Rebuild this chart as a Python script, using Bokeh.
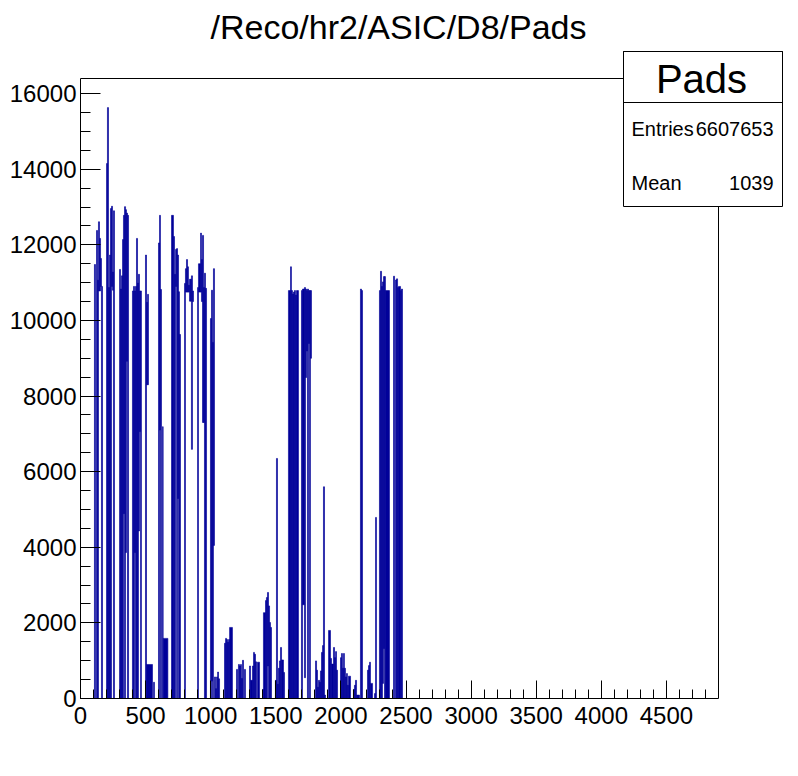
from bokeh.plotting import figure
from bokeh.models import Label, BoxAnnotation, FixedTicker
from bokeh.embed import file_html
from bokeh.resources import INLINE

# ---- histogram content (pad ranges with min/max bin content inside each range) ----
pad_lo = [107,123,131,138,146,154,161,200,207,215,223,230,238,246,253,
          300,307,315,323,330,338,346,353,361,
          399,407,415,422,430,438,445,453,461,
          499,507,515,507,561,599,607,614,630,635,
          699,714,722,730,738,745,753,760,
          799,806,814,822,829,837,845,852,860,
          899,906,922,929,937,945,952,960,
          998,1006,1014,1021,1029,1037,1045,1053,1060,
          1106,1114,1122,1129,1137,1145,
          1198,1213,1221,1229,1236,1244,1259,
          1298,1306,1321,1329,1336,1344,1359,
          1398,1405,1421,1428,1436,1444,1452,1459,
          1497,1505,1513,1520,1528,1536,1544,1559,
          1597,1613,1620,1628,1636,1643,1651,1659,
          1697,1705,1720,1728,1736,1743,1751,1759,1766,
          1805,1813,1820,1828,1836,1843,1851,1859,1866,1874,
          1905,1920,1928,1943,1951,1959,1966,
          1997,2004,2012,2020,2027,2035,2043,2050,2058,
          2096,2104,2112,2120,
          2150,2158,
          2204,2212,2220,2227,
          2258,2266,
          2296,2304,2312,2319,2327,2335,2342,
          2404,2419,2427,2435,2442,2458,2465]
pad_hi = [115,131,138,146,154,161,169,207,215,223,230,238,246,253,261,
          307,315,323,330,338,346,353,361,369,
          407,415,422,430,438,445,453,461,468,
          507,515,522,553,568,607,614,622,635,671,
          714,722,730,738,745,753,760,768,
          806,814,822,829,837,845,852,860,868,
          906,922,929,937,945,952,960,968,
          1006,1014,1021,1029,1037,1045,1053,1060,1068,
          1114,1122,1129,1137,1145,1167,
          1206,1221,1229,1236,1244,1252,1267,
          1306,1321,1329,1336,1344,1352,1375,
          1405,1421,1428,1436,1444,1452,1459,1467,
          1505,1513,1520,1528,1536,1544,1559,1567,
          1613,1620,1628,1636,1643,1651,1659,1674,
          1705,1720,1728,1736,1743,1751,1759,1766,1774,
          1813,1820,1828,1836,1843,1851,1859,1866,1874,1882,
          1920,1928,1943,1951,1959,1966,1974,
          2004,2012,2020,2027,2035,2043,2050,2058,2074,
          2104,2112,2120,2143,
          2158,2166,
          2212,2220,2227,2243,
          2266,2273,
          2304,2312,2319,2327,2335,2342,2373,
          2412,2427,2435,2442,2458,2465,2473]
count_min = [0,0,0,10780,10780,10900,0,0,0,0,0,0,10900,10800,0,
             0,0,0,0,4890,0,3860,8920,0,
             0,0,3860,0,0,0,4430,7060,0,
             0,8300,8300,0,0,0,7100,0,0,0,
             0,0,0,10900,0,5290,0,0,
             0,10750,10750,10750,10750,10510,10510,6590,10500,
             0,10750,10750,10500,7300,7300,0,0,
             0,460,0,4050,0,0,0,0,0,
             0,0,0,0,0,0,
             0,0,0,0,0,0,0,
             0,0,0,0,0,0,0,
             0,0,0,0,860,0,0,0,
             0,0,0,0,0,0,0,0,
             0,0,0,0,0,0,0,0,
             0,2480,550,8490,9190,0,9390,0,9000,
             0,0,0,0,0,0,0,0,0,0,
             0,0,0,0,0,0,0,
             0,0,0,0,0,0,0,0,0,
             0,0,0,0,
             0,0,
             0,0,0,0,
             0,0,
             0,0,0,400,1320,0,0,
             0,0,0,0,0,0,0]
count_max = [11480,12380,11065,12610,12170,11640,10900,14150,15630,10870,11730,12960,13020,11280,12900,
             11350,10830,11180,12140,12780,13010,12930,12840,12780,
             10780,10900,10780,10900,12170,10990,11220,10780,10780,
             11730,10480,10690,900,430,12050,12780,10820,7190,1590,
             12780,12220,11220,11880,11900,11730,10760,9630,
             10980,11370,11610,11420,10930,11090,11090,11180,10780,
             10870,11500,12310,11610,12250,10870,11250,10850,
             10050,10800,9420,11370,570,260,570,700,520,
             1460,1590,1560,1490,1560,1880,
             770,900,860,900,530,1010,770,
             860,480,860,1220,1170,970,960,
             240,2270,2590,2670,2805,2450,2010,1880,
             480,6350,380,800,995,1350,1020,690,
             10790,11420,10790,10700,10750,10790,10670,10790,
             10790,10830,10870,10830,10790,10830,10790,10790,10790,
             995,750,300,480,430,730,1220,1400,5600,90,
             1800,1060,910,1350,1080,1240,750,
             1080,1190,800,1190,800,570,660,350,590,
             240,350,480,90,
             10830,10790,
             750,870,960,400,
             130,4790,
             10790,11300,10900,11020,11160,11160,10790,
             11170,11070,11100,10870,10900,10790,10830]

x_major = [0, 500, 1000, 1500, 2000, 2500, 3000, 3500, 4000, 4500]
x_minor = list(range(0, 4900, 100))
y_major = [0, 2000, 4000, 6000, 8000, 10000, 12000, 14000, 16000]
y_minor = list(range(0, 16500, 500))

title_text = "/Reco/hr2/ASIC/D8/Pads"
stats_name = "Pads"
entries = "6607653"
mean = "1039"

X_MAX = 4900
Y_MAX = 16400
NAVY = "#000099"
FONT = "Liberation Sans"

# visual axes box on the page (px): left 80, right 718, top 78, bottom 698
W, H = 790, 768
FL, FR, FT, FB = 80, 718, 78, 698
def px_x(px):
    return (px - FL) / (FR - FL) * X_MAX
def py_y(py):
    return (FB - py) / (FB - FT) * Y_MAX

# the Bokeh frame spans to the top/right canvas edges so that the title and
# the statistics box (which lie outside the axes box) are not clipped
p = figure(width=W, height=H, x_range=(0, px_x(W)), y_range=(0, py_y(0)),
           output_backend="svg", toolbar_location=None,
           min_border_left=FL, min_border_right=0,
           min_border_top=0, min_border_bottom=H - FB)

p.quad(left=pad_lo, right=pad_hi, bottom=count_min, top=count_max,
       fill_color=NAVY, line_color=NAVY, line_width=0.6)

p.xgrid.visible = False
p.ygrid.visible = False
p.background_fill_color = "white"
p.border_fill_color = "white"
p.outline_line_color = None

p.xaxis.ticker = FixedTicker(ticks=x_major, minor_ticks=x_minor)
p.yaxis.ticker = FixedTicker(ticks=y_major, minor_ticks=y_minor)
p.xaxis.bounds = (0, X_MAX)
p.yaxis.bounds = (0, Y_MAX)
for ax in (p.xaxis, p.yaxis):
    ax.axis_line_color = "black"
    ax.major_tick_line_color = "black"
    ax.minor_tick_line_color = "black"
    ax.major_tick_out = 0
    ax.minor_tick_out = 0
    ax.major_label_text_font = FONT
    ax.major_label_text_font_size = "24px"
    ax.major_label_text_color = "black"
p.xaxis.major_tick_in = 18
p.xaxis.minor_tick_in = 9
p.yaxis.major_tick_in = 20
p.yaxis.minor_tick_in = 10
p.xaxis.major_label_standoff = 8
p.yaxis.major_label_standoff = 4

# axes box (top and right edges)
p.add_layout(BoxAnnotation(left=0, right=X_MAX, bottom=0, top=Y_MAX,
                           fill_alpha=0, line_color="black", line_width=1, line_alpha=1))

def text(px, py, s, size, align):
    p.add_layout(Label(x=px_x(px), y=py_y(py), text=s, text_align=align,
                       text_baseline="middle", text_font=FONT,
                       text_font_size=size, text_color="black"))

# title
text(398, 26, title_text, "34px", "center")

# stats box
p.add_layout(BoxAnnotation(left=px_x(623), right=px_x(782), top=py_y(51), bottom=py_y(206),
                           fill_color="white", fill_alpha=1, line_color="black",
                           line_width=1, line_alpha=1))
p.add_layout(BoxAnnotation(left=px_x(623), right=px_x(782), top=py_y(51), bottom=py_y(102),
                           fill_alpha=0, line_color="black", line_width=1, line_alpha=1))
text(701, 78, stats_name, "40px", "center")
text(631, 128, "Entries", "20px", "left")
text(773, 128, entries, "20px", "right")
text(631, 182, "Mean", "20px", "left")
text(773, 182, mean, "20px", "right")

open("out.html", "w").write(file_html(p, INLINE))
